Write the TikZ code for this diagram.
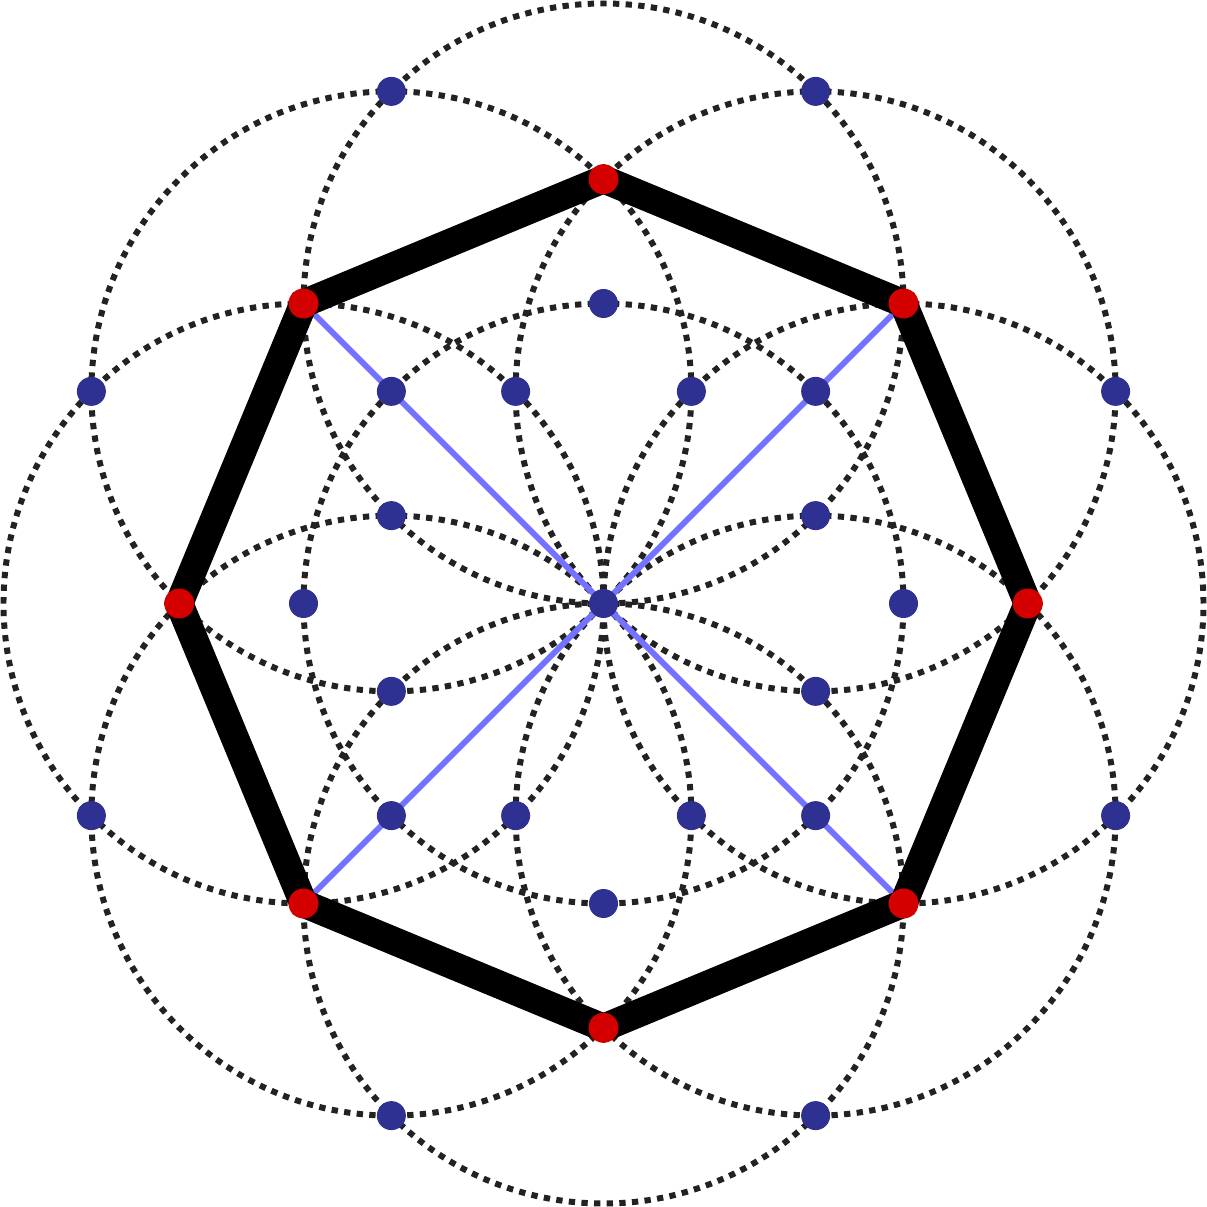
\documentclass[tikz,border=0pt]{standalone}
\usepackage{tikz}
\usetikzlibrary{calc}
\definecolor{dotred}{HTML}{D40000}
\definecolor{dotblue}{HTML}{2E3192}
\definecolor{lineblue}{HTML}{7373FF}
\definecolor{ringgray}{HTML}{222222}
\tikzstyle{ring} = [draw=ringgray, line width=1.7pt, dash pattern=on 1.8pt off 1.8pt]
\tikzstyle{diag} = [draw=lineblue, line width=1.7pt]
\tikzstyle{octagon} = [draw=black, line width=8pt, line join=miter]
\tikzstyle{reddot} = [circle, fill=dotred, inner sep=0pt, minimum size=3mm]
\tikzstyle{bluedot} = [circle, fill=dotblue, inner sep=0pt, minimum size=2.9mm]

\begin{document}
\begin{tikzpicture}
        \useasboundingbox (-6.035,-6.035) rectangle (6.035,6.035);
        % centres of the rings
        \foreach \i in {0,...,7}
            \coordinate (c\i) at (\i*45:3);
        \coordinate (o) at (0,0);
        % dotted rings
        \draw [ring] (o) circle (3);
        \foreach \i in {0,...,7}
            \draw [ring] (c\i) circle (3);
        % vertices of the octagon
        \foreach \i in {0,...,7}
            \coordinate (v\i) at (\i*45:4.2426);
        % blue diagonals
        \draw [diag] (v1) -- (v5);
        \draw [diag] (v3) -- (v7);
        % octagon
        \draw [octagon] (v0) -- (v1) -- (v2) -- (v3) -- (v4) -- (v5) -- (v6) -- (v7) -- cycle;
        % points
        \foreach \i in {0,...,7} {
            \node (center\i) [bluedot] at (c\i) {};
            \node (inner\i) [bluedot] at (22.5+\i*45:2.2961) {};
            \node (outer\i) [bluedot] at (22.5+\i*45:5.5433) {};
            \node (vertex\i) [reddot] at (v\i) {};
        }
        \node (mid) [bluedot] at (o) {};
\end{tikzpicture}
\end{document}
